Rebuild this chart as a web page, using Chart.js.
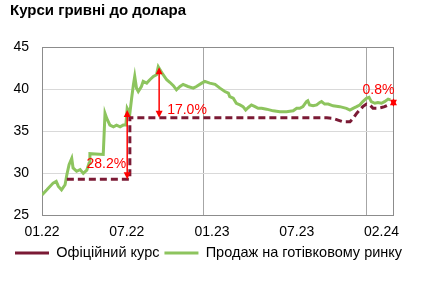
<!DOCTYPE html>
<html>
<head>
<meta charset="utf-8">
<script src="https://cdn.jsdelivr.net/npm/chart.js@4.4.0/dist/chart.umd.min.js"></script>
<style>
html, body { margin: 0; padding: 0; background: #fff; }
</style>
</head>
<body>
<canvas id="canvas" width="423" height="282"></canvas>
<script>
// x values are days counted from 01.01.2022
var cashDays = [0,11,25,32,37,44,52,56,61,67,70,78,86,93,101,106,108,138,142,146,
  153,161,168,176,183,189,192,198,202,206,209,213,217,224,228,236,243,251,258,262,
  266,273,281,288,296,303,311,318,329,341,348,360,367,378,390,401,412,420,423,431,
  438,446,453,459,465,472,480,487,495,506,521,536,551,566,574,581,588,596,599,603,
  611,619,626,630,637,645,656,671,686,694,701,709,716,723,731,737,742,750,757,765,
  772,780,785];
var cashRates = [27.4,28.0,28.8,29.0,28.4,28.0,28.6,29.8,31.0,31.75,30.6,30.2,30.4,29.95,30.35,31.15,32.3,32.2,37.1,36.5,
  35.7,35.5,35.7,35.5,35.7,35.7,37.7,37.1,38.9,40.5,41.5,40.1,39.7,40.3,40.9,40.7,41.1,41.5,41.7,42.65,
  42.3,41.7,41.1,40.8,40.4,39.9,40.3,40.55,40.3,40.1,40.3,40.7,40.9,40.7,40.55,40.1,39.7,39.5,39.1,38.9,
  38.3,38.1,37.9,37.5,37.8,38.1,37.9,37.7,37.7,37.6,37.4,37.3,37.3,37.4,37.7,37.7,37.9,38.5,38.6,38.1,
  38.0,38.1,38.4,38.5,38.2,38.2,38.0,37.9,37.7,37.5,37.7,37.9,38.1,38.5,38.9,39.0,38.5,38.3,38.4,38.3,
  38.5,38.8,38.7];

var officialDays = [56,198,198,642,656,667,678,694,701,709,716,723,731,739,746,757,765,772,784];
var officialRates = [29.25,29.25,36.57,36.57,36.5,36.3,36.1,36.1,36.5,37.1,37.5,37.9,38.2,38.1,37.7,37.7,37.8,37.9,38.2];

var tickDays = [0, 191, 383, 574, 765];
var tickLabels = ['01.22', '07.22', '01.23', '07.23', '02.24'];
var gridDays = [0, 365, 731];

// spread arrows: where, from, to, text
var gapDays = [192, 264, 792];
var gapFrom = [29.25, 36.57, 37.9];
var gapTo = [37.5, 42.6, 38.9];
var gapLabels = ['28.2%', '17.0%', '0.8%'];

function toPoints(xs, ys) {
  var pts = [];
  for (var i = 0; i < xs.length; i++) {
    pts.push({x: xs[i], y: ys[i]});
  }
  return pts;
}

Chart.defaults.font.family = '"Liberation Sans", Arial, sans-serif';
Chart.defaults.color = '#000';

var framePlugin = {
  id: 'frame',
  beforeDatasetsDraw: function(chart) {
    var a = chart.chartArea, c = chart.ctx;
    c.save();
    c.strokeStyle = '#8c8c8c';
    c.lineWidth = 1;
    c.strokeRect(Math.round(a.left) + 0.5, Math.round(a.top) + 0.5,
      Math.round(a.right - a.left), Math.round(a.bottom - a.top));
    c.restore();
  }
};

function arrowHead(c, x, y, dir) {
  c.beginPath();
  c.moveTo(x, y);
  c.lineTo(x - 3.5, y - dir * 7);
  c.lineTo(x + 3.5, y - dir * 7);
  c.closePath();
  c.fill();
}

var gapPlugin = {
  id: 'gaps',
  afterDatasetsDraw: function(chart, args, opts) {
    var c = chart.ctx;
    var xs = chart.scales.x, ys = chart.scales.y;
    c.save();
    c.strokeStyle = '#ff0000';
    c.fillStyle = '#ff0000';
    c.lineWidth = 1.5;
    c.font = '14px "Liberation Sans", Arial, sans-serif';
    c.textBaseline = 'middle';
    for (var i = 0; i < gapDays.length; i++) {
      var x = xs.getPixelForValue(gapDays[i]);
      var yLow = ys.getPixelForValue(gapFrom[i]);
      var yHigh = ys.getPixelForValue(gapTo[i]);
      c.beginPath();
      c.moveTo(x, yLow - 3);
      c.lineTo(x, yHigh + 3);
      c.stroke();
      arrowHead(c, x, yHigh, -1);
      arrowHead(c, x, yLow, 1);
      var p = opts.place[i];
      c.textAlign = p.align;
      c.fillText(gapLabels[i], x + p.dx, (p.from === 'low' ? yLow : yHigh) + p.dy);
    }
    c.restore();
  }
};

var ctx = document.getElementById('canvas').getContext('2d');
new Chart(ctx, {
  type: 'line',
  data: {
    datasets: [
      {
        label: 'Офіційний курс',
        data: toPoints(officialDays, officialRates),
        borderColor: '#7b1a35',
        borderWidth: 3,
        borderDash: [7, 4],
        pointRadius: 0,
        fill: false,
        tension: 0
      },
      {
        label: 'Продаж на готівковому ринку',
        data: toPoints(cashDays, cashRates),
        borderColor: '#8dc45e',
        borderWidth: 3,
        pointRadius: 0,
        fill: false,
        tension: 0
      }
    ]
  },
  options: {
    responsive: false,
    animation: false,
    devicePixelRatio: 1,
    layout: { padding: { left: 10, right: 0, top: 0, bottom: 11.7 } },
    scales: {
      x: {
        type: 'linear', min: 0, max: 791,
        grid: { display: false, tickLength: 9 },
        border: { display: false },
        afterBuildTicks: function(s) { s.ticks = tickDays.map(function(v) { return {value: v}; }); },
        ticks: {
          autoSkip: false, maxRotation: 0, padding: 0,
          font: { size: 14 },
          callback: function(v) { var i = tickDays.indexOf(v); return i < 0 ? '' : tickLabels[i]; }
        }
      },
      xg: {
        type: 'linear', position: 'top', min: 0, max: 791,
        afterBuildTicks: function(s) { s.ticks = gridDays.map(function(v) { return {value: v}; }); },
        ticks: { display: false },
        grid: { color: '#a6a6a6', drawTicks: false },
        border: { display: false }
      },
      y: {
        min: 25, max: 45,
        afterFit: function(s) { s.width = 32; },
        ticks: { stepSize: 5, padding: 13, font: { size: 14 } },
        grid: { color: '#d9d9d9', drawTicks: false },
        border: { display: false }
      },
      yr: {
        position: 'right', min: 25, max: 45,
        afterFit: function(s) { s.width = 30; },
        ticks: { display: false },
        grid: { display: false },
        border: { display: false }
      }
    },
    plugins: {
      title: {
        display: true,
        text: 'Курси гривні до долара',
        align: 'start',
        color: '#000',
        font: { size: 15, weight: 'bold' },
        padding: { top: 2, bottom: 27 }
      },
      legend: {
        position: 'bottom',
        align: 'start',
        labels: {
          usePointStyle: true,
          pointStyle: 'line',
          pointStyleWidth: 34,
          font: { size: 14.5 },
          padding: 5
        }
      },
      tooltip: { enabled: false },
      gaps: {
        place: [
          { align: 'right', dx: -1, dy: -15, from: 'low' },
          { align: 'left', dx: 8, dy: -8, from: 'low' },
          { align: 'center', dx: -15, dy: -8, from: 'high' }
        ]
      }
    }
  },
  plugins: [framePlugin, gapPlugin]
});
</script>
</body>
</html>
